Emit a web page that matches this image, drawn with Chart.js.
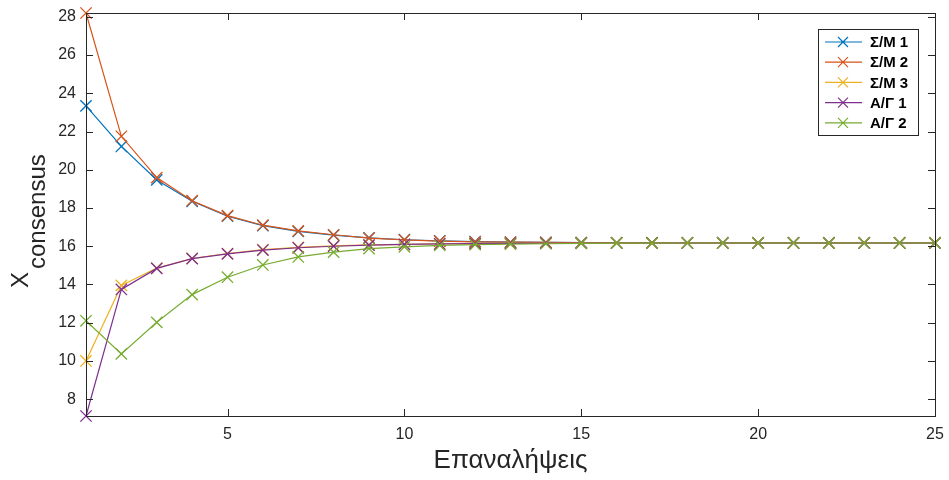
<!DOCTYPE html>
<html>
<head>
<meta charset="utf-8">
<script src="https://cdn.jsdelivr.net/npm/chart.js@4"></script>
<style>
  html, body { margin: 0; padding: 0; background: #fff; }
  #wrap { width: 949px; height: 480px; position: relative; }
</style>
</head>
<body>
<div id="wrap"><canvas id="myChart"></canvas></div>
<script>
// data
var iterations = [1, 2, 3, 4, 5, 6, 7, 8, 9, 10, 11, 12, 13, 14, 15, 16, 17, 18, 19, 20, 21, 22, 23, 24, 25];
var sm1 = [23.34, 21.22, 19.47, 18.35, 17.57, 17.08, 16.78, 16.58, 16.44, 16.34, 16.28, 16.24, 16.21, 16.2, 16.19, 16.18, 16.18, 16.17, 16.17, 16.17, 16.17, 16.17, 16.17, 16.17, 16.17];
var sm2 = [28.2, 21.75, 19.59, 18.38, 17.6, 17.1, 16.8, 16.6, 16.42, 16.33, 16.27, 16.23, 16.21, 16.2, 16.19, 16.18, 16.18, 16.17, 16.17, 16.17, 16.17, 16.17, 16.17, 16.17, 16.17];
var sm3 = [10.0, 13.95, 14.86, 15.36, 15.62, 15.82, 15.94, 16.02, 16.07, 16.1, 16.13, 16.14, 16.15, 16.16, 16.16, 16.17, 16.17, 16.17, 16.17, 16.17, 16.17, 16.17, 16.17, 16.17, 16.17];
var ag1 = [7.12, 13.74, 14.84, 15.35, 15.6, 15.8, 15.92, 16.0, 16.06, 16.1, 16.12, 16.14, 16.15, 16.16, 16.16, 16.17, 16.17, 16.17, 16.17, 16.17, 16.17, 16.17, 16.17, 16.17, 16.17];
var ag2 = [12.1, 10.37, 12.02, 13.47, 14.38, 15.02, 15.44, 15.69, 15.88, 15.97, 16.04, 16.08, 16.11, 16.13, 16.15, 16.16, 16.16, 16.17, 16.17, 16.17, 16.17, 16.17, 16.17, 16.17, 16.17];

var seriesNames = ['Σ/Μ 1', 'Σ/Μ 2', 'Σ/Μ 3', 'Α/Γ 1', 'Α/Γ 2'];
var seriesColors = ['#0072BD', '#D95319', '#EDB120', '#7E2F8E', '#77AC30'];
var xTicks = [5, 10, 15, 20, 25];
var yTicks = [8, 10, 12, 14, 16, 18, 20, 22, 24, 26, 28];
var xTitle = 'Επαναλήψεις';

var FONT = "'Liberation Sans', Arial, sans-serif";
var INK = '#262626';

var allSeries = [sm1, sm2, sm3, ag1, ag2];
var allValues = [].concat.apply([], allSeries);

function toPoints(vals) {
    return vals.map(function (v, i) { return { x: iterations[i], y: v }; });
}

var datasets = allSeries.map(function (vals, i) {
    return {
        label: seriesNames[i],
        data: toPoints(vals),
        borderColor: seriesColors[i],
        backgroundColor: seriesColors[i],
        borderWidth: 1.2,
        pointStyle: 'crossRot',
        pointRadius: 8,
        pointHoverRadius: 8,
        pointBorderWidth: 1.3,
        tension: 0,
        clip: false,
        order: allSeries.length - i
    };
});

// box, inward ticks, axis titles and legend like the matlab figure
var matlabFrame = {
    id: 'matlabFrame',
    afterDraw: function (chart) {
        var ctx = chart.ctx;
        var a = chart.chartArea;
        var xs = chart.scales.x, ys = chart.scales.y;
        ctx.save();
        ctx.strokeStyle = INK;
        ctx.lineWidth = 1;
        ctx.strokeRect(Math.round(a.left) + 0.5, Math.round(a.top) + 0.5,
            Math.round(a.right - a.left), Math.round(a.bottom - a.top));
        ctx.beginPath();
        xTicks.forEach(function (v) {
            var px = Math.round(xs.getPixelForValue(v)) + 0.5;
            ctx.moveTo(px, a.bottom); ctx.lineTo(px, a.bottom - 7);
            ctx.moveTo(px, a.top); ctx.lineTo(px, a.top + 7);
        });
        yTicks.forEach(function (v) {
            var py = Math.round(ys.getPixelForValue(v)) + 0.5;
            ctx.moveTo(a.left, py); ctx.lineTo(a.left + 7, py);
            ctx.moveTo(a.right, py); ctx.lineTo(a.right - 7, py);
        });
        ctx.stroke();

        // x title
        ctx.fillStyle = INK;
        ctx.font = '26px ' + FONT;
        ctx.textAlign = 'center';
        ctx.textBaseline = 'alphabetic';
        ctx.fillText(xTitle, (a.left + a.right) / 2, 468);

        // y title with subscript
        ctx.save();
        ctx.translate(28, 288);
        ctx.rotate(-Math.PI / 2);
        ctx.textAlign = 'left';
        ctx.font = '24px ' + FONT;
        ctx.fillText('X', 0, 0);
        var w = ctx.measureText('X').width;
        ctx.font = '24px ' + FONT;
        ctx.fillText('consensus', w + 3, 17);
        ctx.restore();

        // legend
        var bx = 818, by = 29, bw = 100, bh = 106;
        ctx.fillStyle = '#fff';
        ctx.fillRect(bx, by, bw, bh);
        ctx.strokeStyle = INK;
        ctx.lineWidth = 1;
        ctx.strokeRect(bx + 0.5, by + 0.5, bw, bh);
        ctx.font = 'bold 15px ' + FONT;
        ctx.textBaseline = 'middle';
        ctx.textAlign = 'left';
        seriesNames.forEach(function (name, i) {
            var y = by + 13 + i * 20.2;
            ctx.strokeStyle = seriesColors[i];
            ctx.lineWidth = 1.2;
            ctx.beginPath();
            ctx.moveTo(825, y); ctx.lineTo(862, y);
            ctx.moveTo(838, y - 5); ctx.lineTo(848, y + 5);
            ctx.moveTo(838, y + 5); ctx.lineTo(848, y - 5);
            ctx.stroke();
            ctx.fillStyle = '#000';
            ctx.fillText(name, 870, y + 1);
        });
        ctx.restore();
    }
};

var ctx = document.getElementById('myChart').getContext('2d');

var myChart = new Chart(ctx, {
    type: 'line',
    data: { datasets: datasets },
    options: {
        responsive: true,
        maintainAspectRatio: false,
        animation: false,
        layout: { padding: { top: 13, right: 14, left: 0, bottom: 0 } },
        scales: {
            x: {
                type: 'linear',
                min: iterations[0],
                max: iterations[iterations.length - 1],
                afterBuildTicks: function (scale) {
                    scale.ticks = xTicks.map(function (v) { return { value: v }; });
                },
                afterFit: function (scale) {
                    scale.height = 64;
                    scale.paddingLeft = 0;
                    scale.paddingRight = 0;
                },
                grid: { display: false, drawTicks: false },
                border: { display: false },
                ticks: {
                    autoSkip: false,
                    maxRotation: 0,
                    padding: 9,
                    color: INK,
                    font: { family: FONT, size: 16 }
                }
            },
            y: {
                min: Math.min.apply(null, allValues),
                max: Math.max.apply(null, allValues),
                afterBuildTicks: function (scale) {
                    scale.ticks = yTicks.map(function (v) { return { value: v }; });
                },
                afterFit: function (scale) {
                    scale.width = 86;
                    scale.paddingTop = 0;
                    scale.paddingBottom = 0;
                },
                grid: { display: false, drawTicks: false },
                border: { display: false },
                ticks: {
                    autoSkip: false,
                    padding: 10,
                    color: INK,
                    font: { family: FONT, size: 16 }
                }
            }
        },
        plugins: {
            legend: { display: false },
            tooltip: { enabled: false }
        }
    },
    plugins: [matlabFrame]
});
</script>
</body>
</html>
